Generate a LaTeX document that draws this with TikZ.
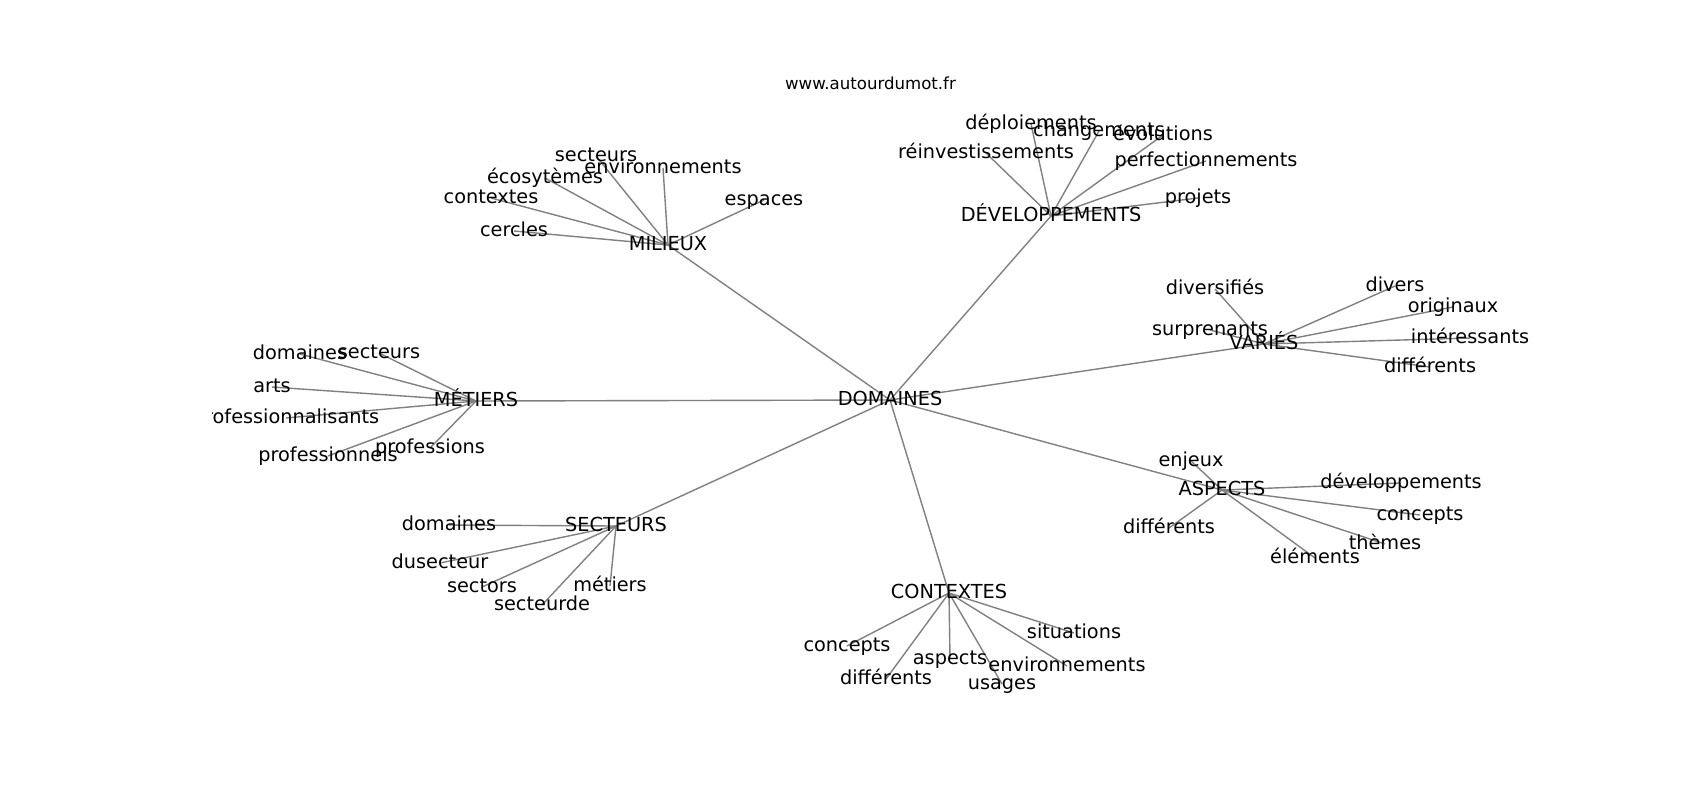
\documentclass[tikz,border=0pt]{standalone}
\usepackage{fontspec}
\setmainfont{DejaVu Sans}
\definecolor{edgegray}{RGB}{128,128,128}
\begin{document}
\begin{tikzpicture}[x=0.5pt,y=-0.5pt,
  lbl/.style={inner sep=0pt, outer sep=0pt, text height=0.76em, text depth=0.236em, font=\fontsize{9.65pt}{11.5pt}\selectfont, text=black},
  ttl/.style={inner sep=0pt, text height=0.76em, text depth=0.236em, font=\fontsize{8.3pt}{10pt}\selectfont},
  conn/.style={draw=edgegray, line width=0.7pt}]
\useasboundingbox (0,0) rectangle (1700,800);
\node[ttl] (title) at (870.5,84) {www.autourdumot.fr};
\begin{scope}
\clip (212.5,96) rectangle (1530,712);
% positions
\coordinate (dom) at (890,400);
\coordinate (mil) at (668,245);
\coordinate (m1) at (596,156);
\coordinate (m2) at (663,168);
\coordinate (m3) at (545,178);
\coordinate (m4) at (491,198);
\coordinate (m5) at (514,231);
\coordinate (m6) at (764,200);
\coordinate (dev) at (1051,216);
\coordinate (d1) at (1031,124);
\coordinate (d2) at (1099,131);
\coordinate (d3) at (1163,135);
\coordinate (d4) at (986,153);
\coordinate (d5) at (1206,161);
\coordinate (d6) at (1198,198);
\coordinate (var) at (1264,344);
\coordinate (v1) at (1215,289);
\coordinate (v2) at (1210,330);
\coordinate (v3) at (1395,286);
\coordinate (v4) at (1453,307);
\coordinate (v5) at (1470,338);
\coordinate (v6) at (1430,367);
\coordinate (met) at (476,401);
\coordinate (t1) at (300,354);
\coordinate (t2) at (379,353);
\coordinate (t3) at (272,387);
\coordinate (t4) at (286,418);
\coordinate (t5) at (328,456);
\coordinate (t6) at (430,448);
\coordinate (sec) at (616,526);
\coordinate (s1) at (449,525);
\coordinate (s2) at (440,563);
\coordinate (s3) at (482,587);
\coordinate (s4) at (542,605);
\coordinate (s5) at (610,586);
\coordinate (con) at (949,593);
\coordinate (c1) at (847,646);
\coordinate (c2) at (886,679);
\coordinate (c3) at (950,659);
\coordinate (c4) at (1002,684);
\coordinate (c5) at (1067,666);
\coordinate (c6) at (1074,633);
\coordinate (asp) at (1222,490);
\coordinate (a1) at (1191,461);
\coordinate (a2) at (1401,483);
\coordinate (a3) at (1420,515);
\coordinate (a4) at (1385,544);
\coordinate (a5) at (1169,528);
\coordinate (a6) at (1315,558);
% connectors
\foreach \p in {mil,dev,var,met,sec,con,asp} \draw[conn] (dom) -- (\p);
\foreach \c in {m1,m2,m3,m4,m5,m6} \draw[conn] (mil) -- (\c);
\foreach \c in {d1,d2,d3,d4,d5,d6} \draw[conn] (dev) -- (\c);
\foreach \c in {v1,v2,v3,v4,v5,v6} \draw[conn] (var) -- (\c);
\foreach \c in {t1,t2,t3,t4,t5,t6} \draw[conn] (met) -- (\c);
\foreach \c in {s1,s2,s3,s4,s5} \draw[conn] (sec) -- (\c);
\foreach \c in {c1,c2,c3,c4,c5,c6} \draw[conn] (con) -- (\c);
\foreach \c in {a1,a2,a3,a4,a5,a6} \draw[conn] (asp) -- (\c);
% labels
\node[lbl] (ldom) at (dom) {DOMAINES};
\node[lbl] (lmil) at (mil) {MILIEUX};
\node[lbl] (lm1) at (m1) {secteurs};
\node[lbl] (lm2) at (m2) {environnements};
\node[lbl] (lm3) at (m3) {écosytèmes};
\node[lbl] (lm4) at (m4) {contextes};
\node[lbl] (lm5) at (m5) {cercles};
\node[lbl] (lm6) at (m6) {espaces};
\node[lbl] (ldev) at (dev) {DÉVELOPPEMENTS};
\node[lbl] (ld1) at (d1) {déploiements};
\node[lbl] (ld2) at (d2) {changements};
\node[lbl] (ld3) at (d3) {évolutions};
\node[lbl] (ld4) at (d4) {réinvestissements};
\node[lbl] (ld5) at (d5) {perfectionnements};
\node[lbl] (ld6) at (d6) {projets};
\node[lbl] (lvar) at (var) {VARIÉS};
\node[lbl] (lv1) at (v1) {diversifiés};
\node[lbl] (lv2) at (v2) {surprenants};
\node[lbl] (lv3) at (v3) {divers};
\node[lbl] (lv4) at (v4) {originaux};
\node[lbl] (lv5) at (v5) {intéressants};
\node[lbl] (lv6) at (v6) {différents};
\node[lbl] (lmet) at (met) {MÉTIERS};
\node[lbl] (lt1) at (t1) {domaines};
\node[lbl] (lt2) at (t2) {secteurs};
\node[lbl] (lt3) at (t3) {arts};
\node[lbl] (lt4) at (t4) {professionnalisants};
\node[lbl] (lt5) at (t5) {professionnels};
\node[lbl] (lt6) at (t6) {professions};
\node[lbl] (lsec) at (sec) {SECTEURS};
\node[lbl] (ls1) at (s1) {domaines};
\node[lbl] (ls2) at (s2) {dusecteur};
\node[lbl] (ls3) at (s3) {sectors};
\node[lbl] (ls4) at (s4) {secteurde};
\node[lbl] (ls5) at (s5) {métiers};
\node[lbl] (lcon) at (con) {CONTEXTES};
\node[lbl] (lc1) at (c1) {concepts};
\node[lbl] (lc2) at (c2) {différents};
\node[lbl] (lc3) at (c3) {aspects};
\node[lbl] (lc4) at (c4) {usages};
\node[lbl] (lc5) at (c5) {environnements};
\node[lbl] (lc6) at (c6) {situations};
\node[lbl] (lasp) at (asp) {ASPECTS};
\node[lbl] (la1) at (a1) {enjeux};
\node[lbl] (la2) at (a2) {développements};
\node[lbl] (la3) at (a3) {concepts};
\node[lbl] (la4) at (a4) {thèmes};
\node[lbl] (la5) at (a5) {différents};
\node[lbl] (la6) at (a6) {éléments};
\end{scope}
\end{tikzpicture}
\end{document}
